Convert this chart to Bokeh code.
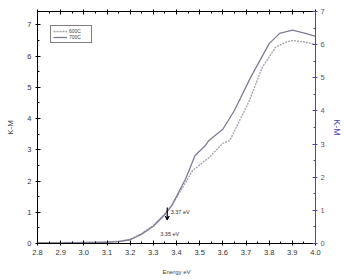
from bokeh.plotting import figure
from bokeh.models import Range1d, LinearAxis, Arrow, VeeHead, Label, Legend, LegendItem, FixedTicker, NumeralTickFormatter
from bokeh.embed import file_html
from bokeh.resources import INLINE

# Data
e_700 = [2.80, 2.90, 3.00, 3.10, 3.15, 3.20, 3.25, 3.30, 3.35, 3.38, 3.44, 3.48, 3.525, 3.54, 3.60, 3.65, 3.72, 3.80, 3.845, 3.90, 3.957, 4.00]
km_700 = [0.02, 0.02, 0.03, 0.04, 0.06, 0.12, 0.30, 0.55, 0.93, 1.22, 2.08, 2.82, 3.14, 3.30, 3.66, 4.26, 5.32, 6.40, 6.73, 6.83, 6.73, 6.63]
e_600 = [2.80, 2.90, 3.00, 3.10, 3.15, 3.20, 3.25, 3.30, 3.35, 3.38, 3.47, 3.54, 3.60, 3.63, 3.715, 3.77, 3.827, 3.87, 3.90, 3.95, 4.00]
km_600 = [0.03, 0.03, 0.04, 0.05, 0.07, 0.14, 0.32, 0.58, 0.95, 1.22, 2.34, 2.75, 3.21, 3.30, 4.58, 5.64, 6.28, 6.44, 6.50, 6.46, 6.37]
x_ticks = [2.8, 2.9, 3.0, 3.1, 3.2, 3.3, 3.4, 3.5, 3.6, 3.7, 3.8, 3.9, 4.0]
y_ticks = [0, 1, 2, 3, 4, 5, 6, 7]

blue = "#4a4aa8"

p = figure(width=344, height=280, output_backend="svg", toolbar_location=None,
           x_range=Range1d(2.8, 4.0), y_range=Range1d(0, 7.43),
           min_border_left=37, min_border_right=29, min_border_top=11, min_border_bottom=37)
p.xgrid.visible = False
p.ygrid.visible = False
p.outline_line_color = None
p.background_fill_color = "white"

p.extra_y_ranges = {"r": Range1d(0, 7)}

x_minor = [2.85 + 0.1 * i for i in range(12)]
y_minor = [0.5 + i for i in range(7)]

def style(ax, color="black"):
    ax.axis_line_color = color
    ax.major_tick_line_color = color
    ax.minor_tick_line_color = color
    ax.major_tick_in = 3
    ax.major_tick_out = 2
    ax.minor_tick_in = 2
    ax.minor_tick_out = 0
    ax.major_label_text_font = "Liberation Sans"
    ax.major_label_text_font_size = "7.5px"
    ax.major_label_text_color = "#333333" if color == "black" else "#555577"
    ax.axis_label_text_font = "Liberation Sans"
    ax.axis_label_text_font_style = "normal"

xa = p.xaxis[0]
xa.ticker = FixedTicker(ticks=x_ticks, minor_ticks=x_minor)
xa.formatter = NumeralTickFormatter(format="0.0")
style(xa)
xa.axis_label = "Energy eV"
xa.axis_label_text_font_size = "6px"
xa.axis_label_standoff = 11
xa.major_label_standoff = 4

ya = p.yaxis[0]
ya.ticker = FixedTicker(ticks=y_ticks, minor_ticks=y_minor)
style(ya)
ya.axis_label = "K-M"
ya.axis_label_text_font_size = "8px"
ya.axis_label_standoff = 9
ya.major_label_standoff = 4

top = LinearAxis(ticker=FixedTicker(ticks=x_ticks, minor_ticks=x_minor))
style(top)
top.major_label_overrides = {t: "" for t in x_ticks}
top.major_label_standoff = 0
p.add_layout(top, "above")

ra = LinearAxis(y_range_name="r", ticker=FixedTicker(ticks=y_ticks, minor_ticks=y_minor))
style(ra, color=blue)
ra.axis_label = "K-M"
ra.axis_label_text_color = blue
ra.axis_label_text_font_size = "9px"
ra.axis_label_standoff = 4
ra.major_label_standoff = 3
p.add_layout(ra, "right")

r600 = p.line(e_600, km_600, line_color="#a0a0a8", line_width=1.3, line_dash="2 1")
r700 = p.line(e_700, km_700, line_color="#7d7d95", line_width=1.3)

p.add_layout(Arrow(end=VeeHead(size=4, line_color="black", fill_color="black"),
                   x_start=3.36, y_start=1.15, x_end=3.36, y_end=0.75, line_width=1.2))
p.add_layout(Label(x=3.375, y=0.92, text="3.37 eV", text_font="Liberation Sans",
                   text_font_size="5.5px", text_color="#333333"))
p.add_layout(Label(x=3.33, y=0.22, text="3.35 eV", text_font="Liberation Sans",
                   text_font_size="5.5px", text_color="#333333"))

leg = Legend(items=[LegendItem(label="600C", renderers=[r600]),
                    LegendItem(label="700C", renderers=[r700])],
             location=(13, 200))
leg.label_text_font = "Liberation Sans"
leg.label_text_font_size = "5px"
leg.label_height = 6
leg.glyph_height = 6
leg.glyph_width = 14
leg.spacing = 0
leg.padding = 2
leg.margin = 0
leg.label_standoff = 2
leg.border_line_color = "black"
leg.border_line_width = 1
leg.background_fill_color = "white"
p.add_layout(leg, "center")

open("out.html", "w").write(file_html(p, INLINE))
